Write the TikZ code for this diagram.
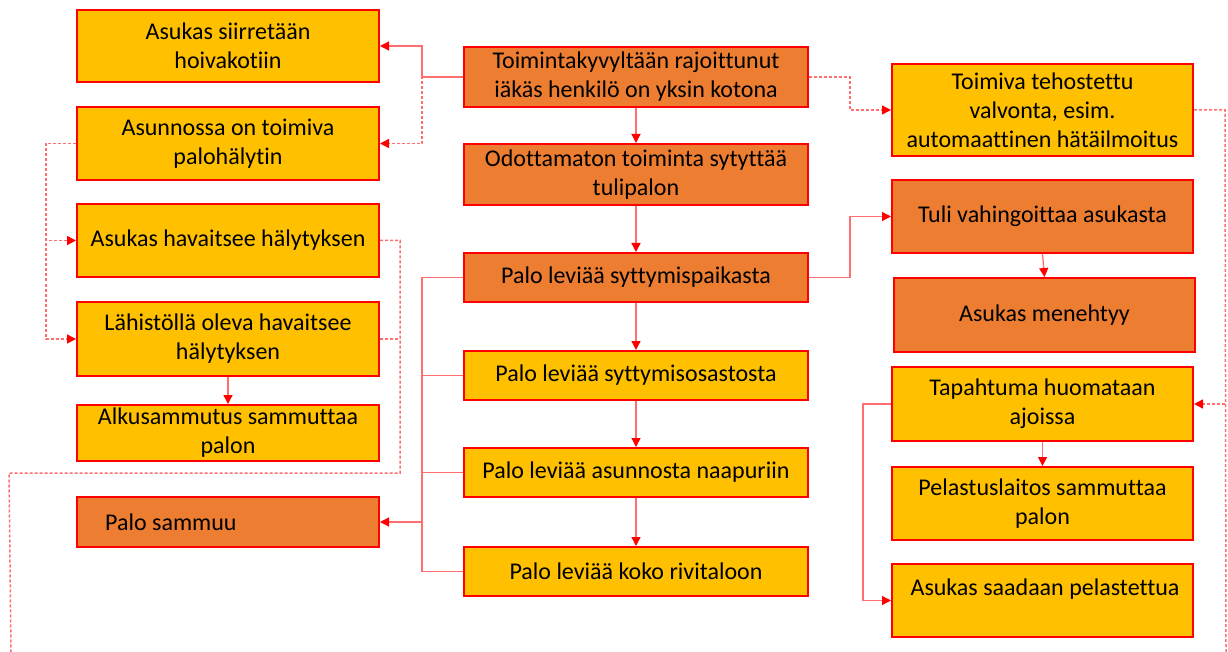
\documentclass[tikz,border=0pt]{standalone}
\usepackage{fontspec}
\setmainfont{Carlito}[Ligatures={NoCommon}]
\usetikzlibrary{arrows.meta,calc}

\definecolor{boxorange}{HTML}{ED7D31}
\definecolor{boxyellow}{HTML}{FFC000}
\definecolor{boxedge}{HTML}{FF0000}
\definecolor{linkred}{HTML}{FF6F6F}

\tikzset{
  box/.style={draw=boxedge, line width=2pt, inner sep=0pt, align=center,
    font=\fontsize{24}{29}\selectfont, text=black},
  obox/.style={box, fill=boxorange},
  ybox/.style={box, fill=boxyellow},
  lbl/.style={inner sep=0pt, align=center, font=\fontsize{24}{29}\selectfont, text=black},
  conn/.style={draw=linkred, line width=1.3pt},
  dconn/.style={draw=linkred, line width=1.5pt, dash pattern=on 3pt off 2pt},
  tip/.style={-{Triangle[length=9pt,width=9pt,color=boxedge]}},
}

\begin{document}
\begin{tikzpicture}[x=1pt,y=-1pt]
\useasboundingbox (0,0) rectangle (1228,652);

% left column
\node[ybox, minimum width=302, minimum height=72] (a1) at (228,46) {Asukas siirretään\\hoivakotiin};
\node[ybox, minimum width=302, minimum height=73] (a2) at (228,143.5) {Asunnossa on toimiva\\palohälytin};
\node[ybox, minimum width=302, minimum height=73] (a3) at (228,240.5) {Asukas havaitsee hälytyksen};
\node[ybox, minimum width=302, minimum height=74] (a4) at (228,339) {Lähistöllä oleva havaitsee\\hälytyksen};
\node[ybox, minimum width=302, minimum height=56] (a5) at (228,433) {Alkusammutus sammuttaa\\palon};
\node[obox, minimum width=302, minimum height=50] (a6) at (228,522) {};
\node[lbl, anchor=west] (a6t) at (105,522) {Palo sammuu};

% centre column
\node[obox, minimum width=344, minimum height=60] (c1) at (636,77) {Toimintakyvyltään rajoittunut\\iäkäs henkilö on yksin kotona};
\node[obox, minimum width=344, minimum height=61] (c2) at (636,174.5) {Odottamaton toiminta sytyttää\\tulipalon};
\node[obox, minimum width=344, minimum height=49] (c3) at (636,277.5) {Palo leviää syttymispaikasta};
\node[ybox, minimum width=344, minimum height=49] (c4) at (636,375.5) {Palo leviää syttymisosastosta};
\node[ybox, minimum width=344, minimum height=49] (c5) at (636,472.5) {Palo leviää asunnosta naapuriin};
\node[ybox, minimum width=344, minimum height=49] (c6) at (636,571.5) {Palo leviää koko rivitaloon};

% right column
\node[ybox, minimum width=301, minimum height=92] (r1) at (1042.5,110) {Toimiva tehostettu\\valvonta, esim.\\automaattinen hätäilmoitus};
\node[obox, minimum width=301, minimum height=73] (r2) at (1042.5,216.5) {Tuli vahingoittaa asukasta};
\node[obox, minimum width=301, minimum height=74] (r3) at (1044.5,315) {Asukas menehtyy};
\node[ybox, minimum width=301, minimum height=74] (r4) at (1042.5,404) {Tapahtuma huomataan\\ajoissa};
\node[ybox, minimum width=301, minimum height=73] (r5) at (1042.5,503.5) {Pelastuslaitos sammuttaa\\palon};
\node[ybox, minimum width=301, minimum height=73] (r6) at (1042.5,600.5) {};
\node[lbl] (r6t) at (1045,589) {Asukas saadaan pelastettua};

% bend lines
\coordinate (lbus) at (422,0);
\coordinate (rbus) at (850,0);
\coordinate (lx) at (46,0);
\coordinate (ax) at (400,0);
\coordinate (lowL) at (9,473);
\coordinate (endL) at (11,652);
\coordinate (rx) at (1225,0);
\coordinate (endR) at (1226,652);
\coordinate (r4x) at (863,0);

% from the starting situation
\draw[conn, tip] (c1.west) -- (c1.west -| lbus) |- (a1.east);
\draw[dconn, tip] (c1.west) -- (c1.west -| lbus) |- (a2.east);
\draw[dconn, tip] (c1.east) -- (c1.east -| rbus) |- (r1.west);
\draw[conn, tip] (c1.south) -- (c2.north);
\draw[conn, tip] (c2.south) -- (c3.north);
\draw[conn, tip] (c3.south) -- (c4.north);
\draw[conn, tip] (c4.south) -- (c5.north);
\draw[conn, tip] (c5.south) -- (c6.north);

% fire spread to injury
\draw[conn, tip] (c3.east) -- (c3.east -| rbus) |- (r2.west);
\draw[conn, tip] (r2.south) -- (r3.north);

% collecting bus to the extinguished fire
\draw[conn] (c3.west) -- (c3.west -| lbus) |- (c6.west);
\draw[conn] (c4.west) -- (c4.west -| lbus);
\draw[conn] (c5.west) -- (c5.west -| lbus);
\draw[conn, tip] (a6.east -| lbus) -- (a6.east);

% alarm detection branch
\draw[dconn, tip] (a2.west) -- (a2.west -| lx) |- (a3.west);
\draw[dconn, tip] (a2.west) -- (a2.west -| lx) |- (a4.west);
\draw[conn, tip] (a4.south) -- (a5.north);
\draw[dconn] (a3.east) -- (a3.east -| ax) |- (lowL) -- (endL);
\draw[dconn] (a4.east) -- (a4.east -| ax);

% monitoring branch
\draw[dconn] (r1.east) -- (r1.east -| rx) -- (endR);
\draw[dconn, tip] (r4.east -| rx) -- (r4.east);
\draw[conn, tip] (r4.south) -- (r5.north);
\draw[conn, tip] (r4.west) -- (r4.west -| r4x) |- (r6.west);
\end{tikzpicture}
\end{document}
